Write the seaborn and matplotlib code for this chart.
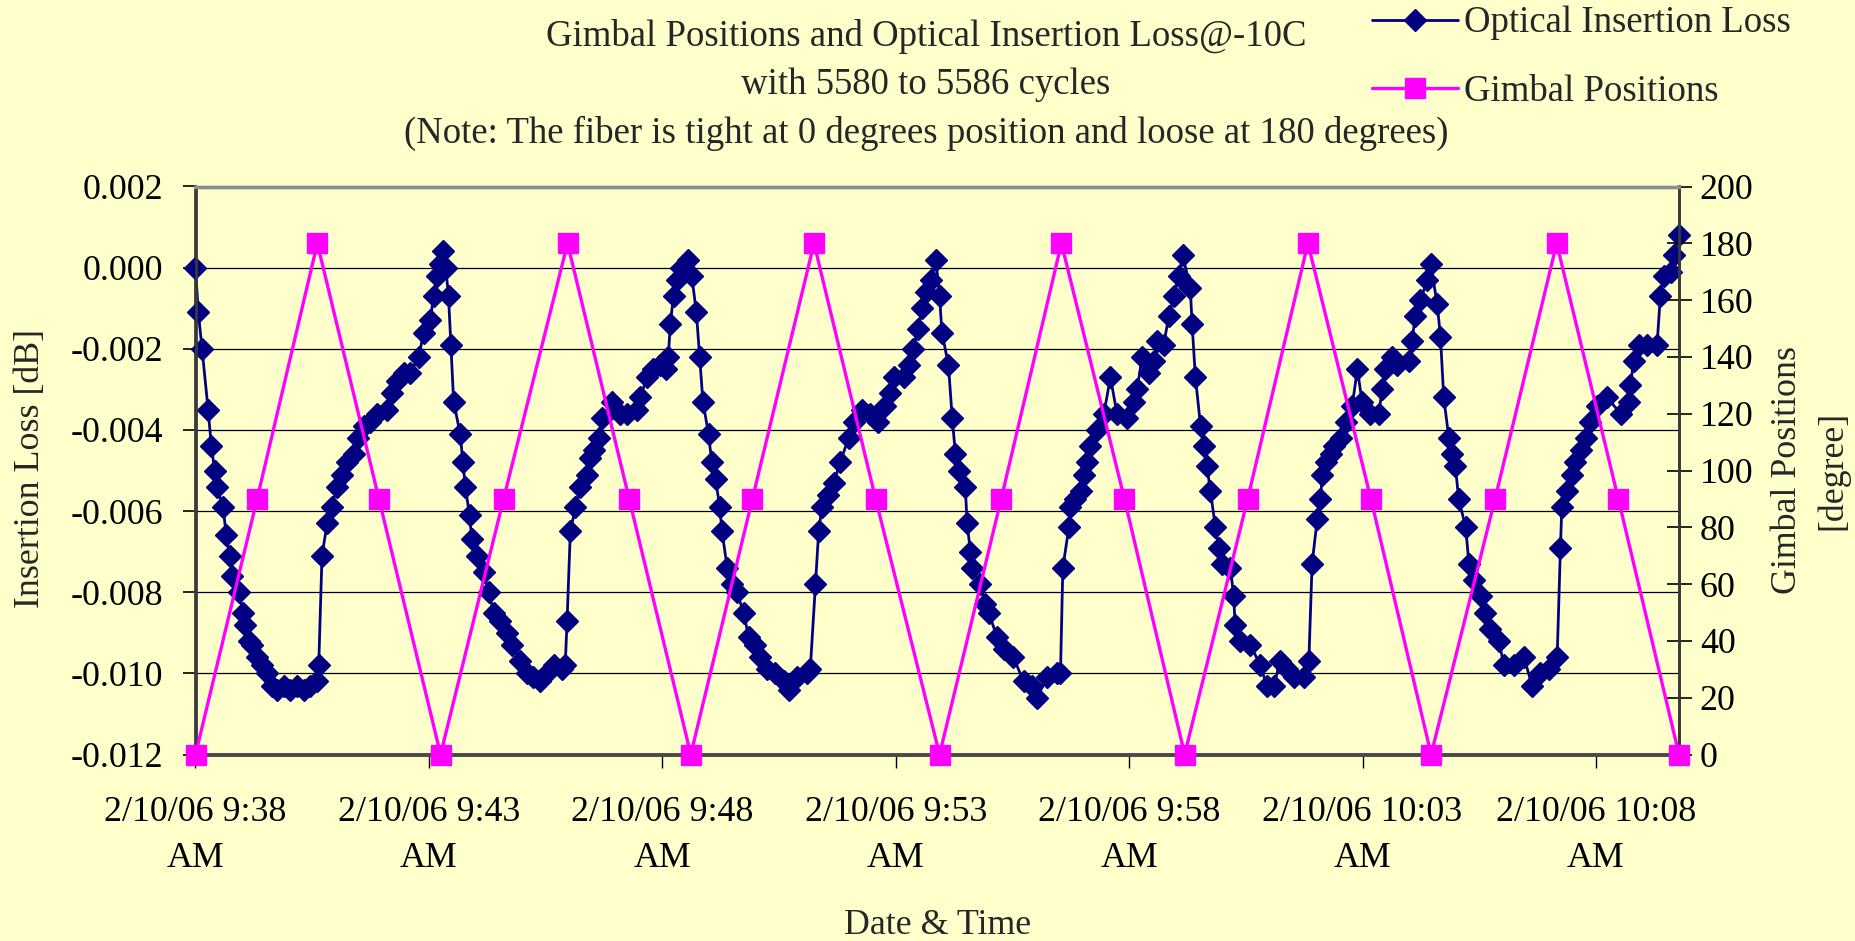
import matplotlib
matplotlib.use("Agg")
import matplotlib.pyplot as plt
import seaborn as sns
import pandas as pd
from matplotlib.ticker import FixedLocator, FuncFormatter

# ---------------- data ----------------
# time in minutes after 2/10/06 9:38 AM, insertion loss in dB
c1_min = [0.00,0.06,0.14,0.27,0.34,0.41,0.46,0.59,0.66,0.73,0.78,0.94,1.01,1.06,1.14,1.21,1.31,1.42,1.53,1.64,
          1.74,1.89,2.03,2.17,2.32,2.46,2.60,2.64,2.71,2.82,2.92,3.03,3.14,3.24,3.39,3.49,3.60,3.74,3.89,4.10,
          4.21,4.32,4.46,4.60,4.78,4.89,5.03,5.10,5.17,5.24,5.31]
c1_db = [0.0000,-0.0011,-0.0020,-0.0035,-0.0044,-0.0050,-0.0054,-0.0059,-0.0066,-0.0071,-0.0076,-0.0080,-0.0085,
         -0.0088,-0.0092,-0.0093,-0.0096,-0.0098,-0.0100,-0.0103,-0.0104,-0.0103,-0.0104,-0.0103,-0.0104,-0.0103,
         -0.0102,-0.0098,-0.0071,-0.0063,-0.0059,-0.0054,-0.0051,-0.0048,-0.0046,-0.0042,-0.0039,-0.0038,-0.0036,
         -0.0035,-0.0031,-0.0028,-0.0026,-0.0026,-0.0022,-0.0016,-0.0013,-0.0007,-0.0002,0.0001,0.0004]
c2_min = [5.36,5.42,5.47,5.53,5.67,5.73,5.78,5.87,5.92,6.03,6.17,6.28,6.39,6.53,6.67,6.78,6.96,7.10,7.24,7.39,
          7.53,7.67,7.85,7.92,7.96,8.03,8.14,8.24,8.39,8.46,8.53,8.64,8.71,8.92,9.10,9.24,9.46,9.53,9.67,9.81,
          9.96,10.07,10.13,10.17,10.24,10.31,10.39,10.46,10.54]
c2_db = [0.0000,-0.0007,-0.0019,-0.0033,-0.0041,-0.0048,-0.0054,-0.0061,-0.0067,-0.0071,-0.0075,-0.0080,-0.0085,
         -0.0087,-0.0090,-0.0093,-0.0097,-0.0100,-0.0101,-0.0102,-0.0100,-0.0098,-0.0099,-0.0098,-0.0087,-0.0065,
         -0.0059,-0.0054,-0.0051,-0.0047,-0.0045,-0.0042,-0.0037,-0.0033,-0.0036,-0.0036,-0.0035,-0.0032,-0.0027,
         -0.0025,-0.0024,-0.0025,-0.0022,-0.0014,-0.0007,-0.0003,0.0000,0.0000,0.0002]
c3_min = [10.63,10.73,10.80,10.87,10.99,11.06,11.14,11.23,11.28,11.39,11.49,11.60,11.74,11.85,11.99,12.10,12.24,
          12.42,12.60,12.71,12.88,13.10,13.17,13.28,13.35,13.42,13.56,13.67,13.81,13.99,14.10,14.28,14.45,14.63,
          14.78,14.88,14.96,15.17,15.28,15.38,15.48,15.56,15.64,15.76,15.86]
c3_db = [-0.0002,-0.0011,-0.0022,-0.0033,-0.0041,-0.0048,-0.0052,-0.0059,-0.0065,-0.0074,-0.0078,-0.0080,-0.0085,
         -0.0091,-0.0093,-0.0096,-0.0099,-0.0100,-0.0102,-0.0104,-0.0101,-0.0100,-0.0099,-0.0078,-0.0065,-0.0059,
         -0.0056,-0.0053,-0.0048,-0.0042,-0.0038,-0.0035,-0.0036,-0.0038,-0.0034,-0.0031,-0.0027,-0.0027,-0.0024,
         -0.0020,-0.0015,-0.0010,-0.0006,-0.0003,0.0002]
c4_min = [15.94,15.99,16.13,16.21,16.28,16.35,16.49,16.53,16.60,16.64,16.81,16.92,16.99,17.17,17.31,17.52,17.74,
          17.92,18.03,18.24,18.46,18.53,18.58,18.71,18.74,18.85,18.96,19.03,19.10,19.17,19.31,19.46,19.60,19.74,
          19.96,20.10,20.17,20.28,20.42,20.53,20.60,20.74,20.85,20.96,21.06,21.15]
c4_db = [-0.0007,-0.0016,-0.0024,-0.0037,-0.0046,-0.0050,-0.0054,-0.0063,-0.0070,-0.0074,-0.0078,-0.0083,-0.0085,
         -0.0091,-0.0094,-0.0096,-0.0102,-0.0103,-0.0106,-0.0101,-0.0100,-0.0100,-0.0074,-0.0064,-0.0059,-0.0057,
         -0.0055,-0.0051,-0.0048,-0.0044,-0.0040,-0.0036,-0.0027,-0.0036,-0.0037,-0.0033,-0.0030,-0.0022,-0.0026,
         -0.0023,-0.0018,-0.0019,-0.0012,-0.0007,-0.0002,0.0003]
c5_min = [21.31,21.35,21.42,21.53,21.60,21.67,21.74,21.85,21.92,21.99,22.17,22.24,22.27,22.38,22.60,22.81,22.95,
          23.10,23.24,23.38,23.53,23.74,23.85,23.92,24.03,24.10,24.14,24.21,24.32,24.39,24.53,24.64,24.78,24.89,
          24.99,25.17,25.35,25.42,25.49,25.64,25.74,25.99,26.06,26.13,26.24,26.39,26.46]
c5_db = [-0.0005,-0.0014,-0.0027,-0.0039,-0.0044,-0.0049,-0.0055,-0.0064,-0.0069,-0.0073,-0.0074,-0.0081,-0.0088,
         -0.0092,-0.0093,-0.0098,-0.0103,-0.0103,-0.0097,-0.0099,-0.0101,-0.0101,-0.0097,-0.0073,-0.0062,-0.0057,
         -0.0051,-0.0048,-0.0046,-0.0044,-0.0042,-0.0038,-0.0034,-0.0025,-0.0033,-0.0036,-0.0036,-0.0030,-0.0025,
         -0.0022,-0.0024,-0.0023,-0.0018,-0.0012,-0.0008,-0.0003,0.0001]
c6_min = [26.60,26.67,26.74,26.85,26.92,26.99,27.06,27.21,27.28,27.38,27.53,27.63,27.74,27.92,28.03,28.24,28.46,
          28.63,28.81,28.99,29.17,29.24,29.27,29.38,29.49,29.56,29.67,29.78,29.88,30.03,30.24,30.53,30.70,30.74,
          30.81,30.92,31.10,31.31,31.38,31.45,31.60,31.67,31.78]
c6_db = [-0.0009,-0.0017,-0.0032,-0.0042,-0.0046,-0.0049,-0.0057,-0.0064,-0.0073,-0.0077,-0.0081,-0.0085,-0.0089,
         -0.0092,-0.0098,-0.0098,-0.0096,-0.0103,-0.0100,-0.0099,-0.0096,-0.0069,-0.0059,-0.0055,-0.0051,-0.0048,
         -0.0045,-0.0042,-0.0038,-0.0034,-0.0032,-0.0036,-0.0033,-0.0029,-0.0023,-0.0019,-0.0019,-0.0019,-0.0007,
         -0.0002,-0.0001,0.0003,0.0008]

gimbal_min = [0.00,1.32,2.61,3.93,5.25,6.60,7.97,9.29,10.61,11.93,13.25,14.57,15.94,17.26,18.55,19.90,
              21.19,22.54,23.83,25.18,26.47,27.84,29.16,30.48,31.78]
gimbal_deg = [0,90,180,90,0,90,180,90,0,90,180,90,0,90,180,90,0,90,180,90,0,90,180,90,0]

tick_times = ["9:38", "9:43", "9:48", "9:53", "9:58", "10:03", "10:08"]
tick_labels = ["2/10/06 " + t + "\nAM" for t in tick_times]
left_ticks = [0.002, 0.000, -0.002, -0.004, -0.006, -0.008, -0.010, -0.012]
right_ticks = [0, 20, 40, 60, 80, 100, 120, 140, 160, 180, 200]

title_lines = ["Gimbal Positions and Optical Insertion Loss@-10C",
               "with 5580 to 5586 cycles",
               "(Note: The fiber is tight at 0 degrees position and loose at 180 degrees)"]

# ---------------- frames ----------------
loss_df = pd.DataFrame({
    "minutes": c1_min + c2_min + c3_min + c4_min + c5_min + c6_min,
    "loss": c1_db + c2_db + c3_db + c4_db + c5_db + c6_db,
})
gimbal_df = pd.DataFrame({"minutes": gimbal_min, "deg": gimbal_deg})
t0 = pd.Timestamp("2006-02-10 09:38")
tick_pos = [(pd.Timestamp("2006-02-10 " + t) - t0).total_seconds() / 60 for t in tick_times]

# ---------------- style ----------------
sns.set_style("white")
plt.rcParams["font.family"] = ["Liberation Serif", "DejaVu Serif"]
plt.rcParams["axes.unicode_minus"] = False

BG = "#FFFFCC"
NAVY = "#000080"
MAGENTA = "#FF00FF"
FS = 25.8
FS_TITLE = 26.5

W, H = 1856, 941
fig = plt.figure(figsize=(W / 100, H / 100), dpi=100, facecolor=BG)
L, R, T, B = 195.5, 1679.0, 186.5, 754.5
ax = fig.add_axes([L / W, 1 - B / H, (R - L) / W, (B - T) / H])
ax.set_facecolor(BG)

sns.lineplot(data=loss_df, x="minutes", y="loss", ax=ax, color=NAVY, marker="D",
             markersize=11, markeredgecolor=NAVY, markeredgewidth=1, linewidth=2.0,
             estimator=None, sort=False, legend=False, clip_on=False, zorder=3)

ax2 = ax.twinx()
ax2.patch.set_visible(False)
sns.lineplot(data=gimbal_df, x="minutes", y="deg", ax=ax2, color=MAGENTA, marker="s",
             markersize=14.5, markeredgecolor=MAGENTA, markeredgewidth=1, linewidth=2.4,
             estimator=None, sort=False, legend=False, clip_on=False, zorder=4)

ax.set_xlim(0, gimbal_min[-1])
ax.set_ylim(-0.012, 0.002)
ax2.set_ylim(0, 200)

ax.yaxis.set_major_locator(FixedLocator(left_ticks))
ax.yaxis.set_major_formatter(FuncFormatter(lambda v, p: f"{round(v, 3) + 0:.3f}"))
ax2.yaxis.set_major_locator(FixedLocator(right_ticks))
ax.set_xticks(tick_pos, tick_labels)
for lbl in ax.get_xticklabels():
    lbl.set_linespacing(1.5)

ax.grid(axis="y", color="black", linewidth=0.9)
ax.grid(axis="x", visible=False)
ax2.grid(False)

ax.tick_params(axis="y", direction="out", length=9, width=1.2, pad=14, labelsize=FS, colors="black", left=True)
ax.tick_params(axis="x", direction="out", length=9, width=1.0, pad=21, labelsize=FS, colors="black", bottom=True)
ax2.tick_params(axis="y", direction="inout", length=18, width=1.2, pad=6, labelsize=FS, colors="black", right=True)

for a in (ax, ax2):
    a.spines["top"].set_color("#8C8C8C")
    a.spines["top"].set_linewidth(2.4)
    a.spines["bottom"].set_color("#4A4A4A")
    a.spines["bottom"].set_linewidth(2.6)
    a.spines["left"].set_color("#3A3A3A")
    a.spines["left"].set_linewidth(2.0)
    a.spines["right"].set_color("#3A3A3A")
    a.spines["right"].set_linewidth(2.0)

ax.set_xlabel("")
ax.set_ylabel("")
ax2.set_ylabel("")

# titles and axis labels
for txt, yc in zip(title_lines, [36, 85, 133]):
    fig.text(926 / W, 1 - yc / H, txt, ha="center", va="center", fontsize=FS_TITLE)
fig.text(31 / W, 1 - 469 / H, "Insertion Loss [dB]", rotation=90, ha="center", va="center", fontsize=FS)
fig.text(1810 / W, 1 - 470 / H, "Gimbal Positions\n[degree]", rotation=90, ha="center", va="center",
         fontsize=FS, linespacing=1.45)
fig.text(938 / W, 1 - 926 / H, "Date & Time", ha="center", va="center", fontsize=FS)

# legend
handles = [ax.lines[0], ax2.lines[0]]
fig.legend(handles, ["Optical Insertion Loss", "Gimbal Positions"], loc="upper left",
           bbox_to_anchor=(1372 / W, 1 - 6 / H), frameon=False, fontsize=FS_TITLE, borderpad=0,
           handlelength=2.35, handletextpad=0.15, labelspacing=0.92, borderaxespad=0)

fig.savefig("out.png", dpi=100, facecolor=BG)
